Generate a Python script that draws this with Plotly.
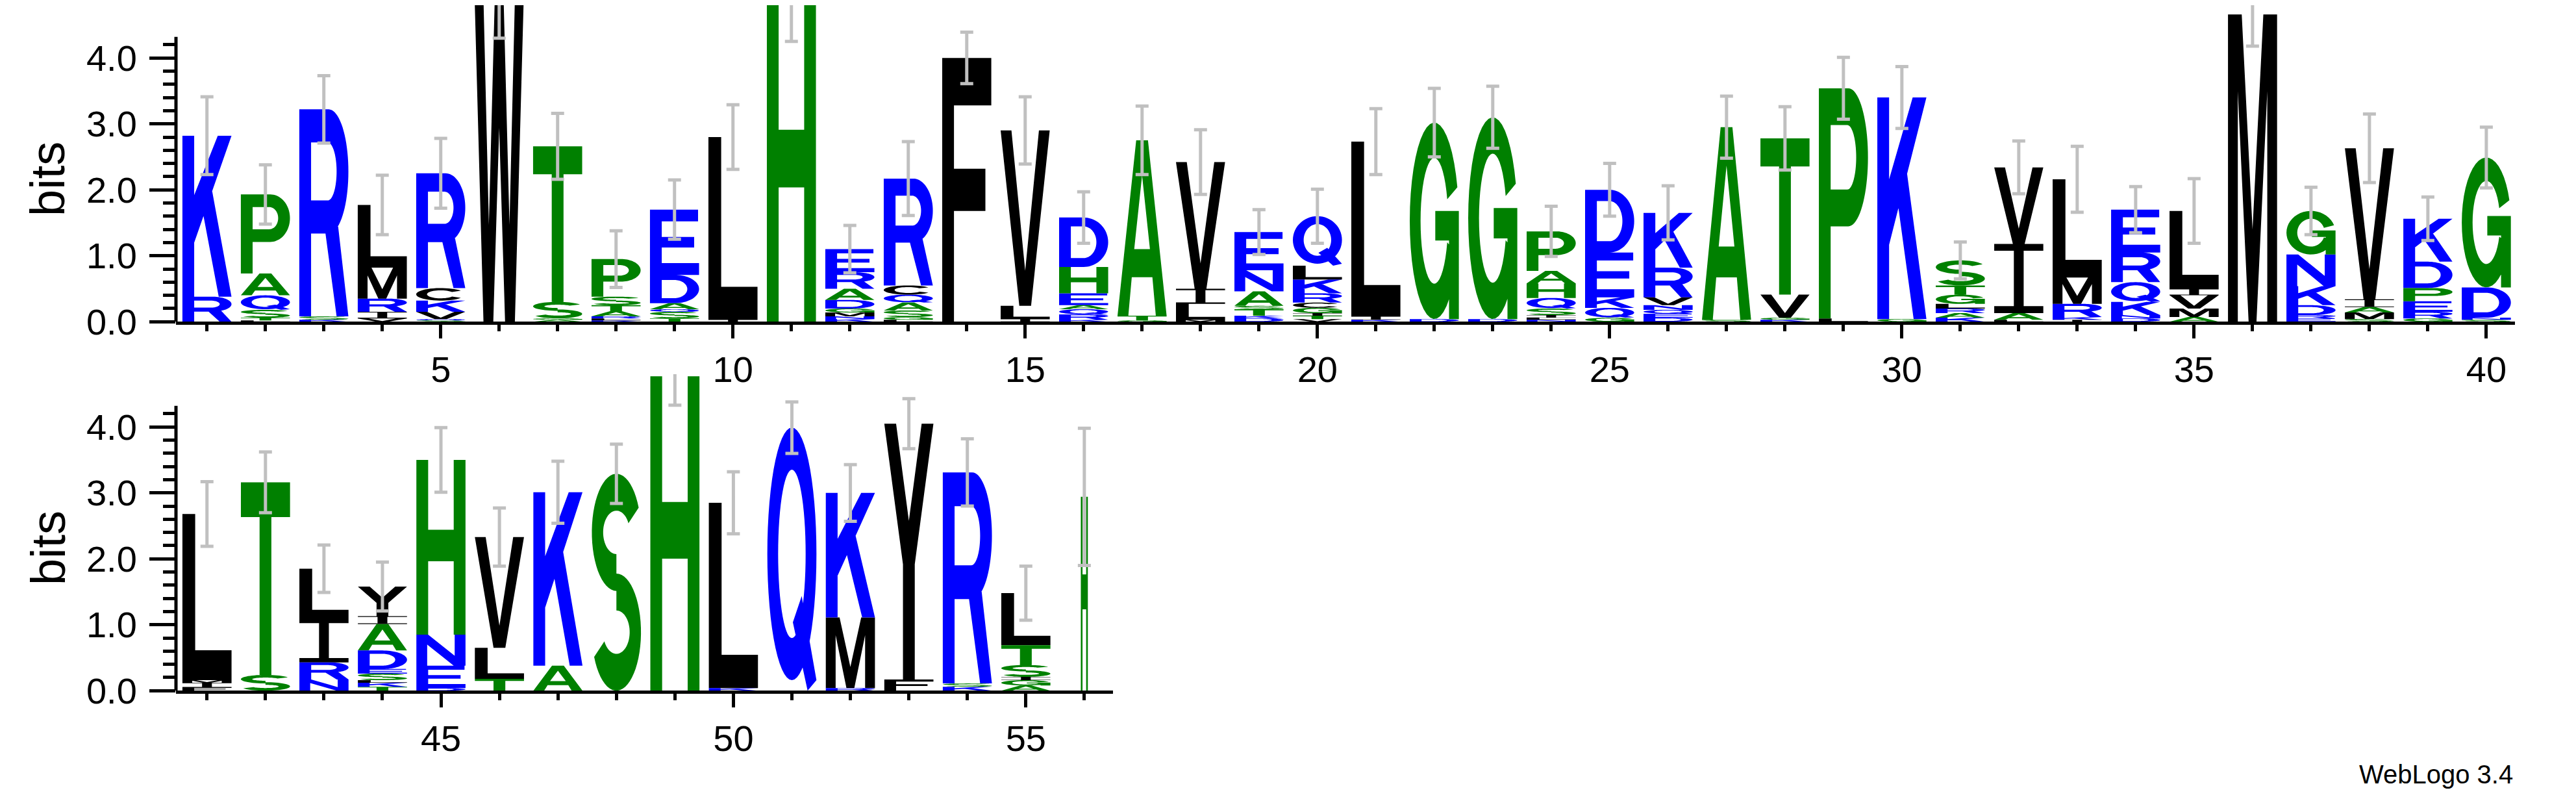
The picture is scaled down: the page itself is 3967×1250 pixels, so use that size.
import math
import plotly.graph_objects as go

# sequence logo data: per position, letters from bottom to top with height in bits
positions = list(range(1, 57))
stacks = [
    [("R", 0.38), ("K", 2.44)],
    [("L", 0.02), ("T", 0.04), ("S", 0.12), ("Q", 0.22), ("A", 0.33), ("P", 1.2)],
    [("K", 0.03), ("S", 0.05), ("R", 3.14)],
    [("V", 0.05), ("I", 0.1), ("R", 0.2), ("M", 0.47), ("L", 0.95)],
    [("S", 0.02), ("Q", 0.02), ("V", 0.11), ("K", 0.17), ("C", 0.19), ("R", 1.74)],
    [("W", 4.9)],
    [("A", 0.03), ("G", 0.02), ("S", 0.25), ("T", 2.36)],
    [("K", 0.02), ("L", 0.03), ("R", 0.03), ("A", 0.08), ("T", 0.09), ("S", 0.13), ("P", 0.57)],
    [("T", 0.05), ("S", 0.1), ("Q", 0.04), ("A", 0.09), ("D", 0.43), ("E", 0.99)],
    [("I", 0.03), ("L", 2.77)],
    [("H", 4.85)],
    [("K", 0.04), ("N", 0.04), ("M", 0.06), ("G", 0.06), ("D", 0.13), ("A", 0.17), ("R", 0.25), ("E", 0.35)],
    [("L", 0.03), ("G", 0.04), ("S", 0.1), ("A", 0.12), ("Q", 0.12), ("C", 0.14), ("R", 1.62)],
    [("F", 4.0)],
    [("I", 0.04), ("L", 0.2), ("V", 2.66)],
    [("K", 0.03), ("R", 0.08), ("Q", 0.08), ("A", 0.06), ("E", 0.18), ("H", 0.4), ("D", 0.75)],
    [("G", 0.02), ("T", 0.07), ("A", 2.66)],
    [("M", 0.03), ("L", 0.24), ("I", 0.23), ("V", 1.92)],
    [("D", 0.05), ("K", 0.04), ("T", 0.1), ("S", 0.05), ("A", 0.22), ("N", 0.32), ("E", 0.58)],
    [("V", 0.04), ("T", 0.05), ("I", 0.04), ("G", 0.08), ("C", 0.08), ("R", 0.14), ("K", 0.21), ("L", 0.21), ("Q", 0.75)],
    [("K", 0.03), ("I", 0.05), ("L", 2.65)],
    [("D", 0.04), ("G", 2.98)],
    [("D", 0.04), ("G", 3.06)],
    [("N", 0.03), ("L", 0.03), ("I", 0.04), ("S", 0.1), ("Q", 0.16), ("H", 0.22), ("A", 0.19), ("P", 0.6)],
    [("G", 0.06), ("Q", 0.15), ("K", 0.16), ("E", 0.68), ("D", 0.95)],
    [("D", 0.06), ("E", 0.06), ("Q", 0.06), ("N", 0.07), ("V", 0.12), ("R", 0.45), ("K", 0.83)],
    [("S", 0.03), ("A", 2.92)],
    [("K", 0.03), ("G", 0.03), ("V", 0.35), ("T", 2.37)],
    [("L", 0.05), ("P", 3.49)],
    [("G", 0.04), ("K", 3.36)],
    [("K", 0.06), ("A", 0.07), ("R", 0.07), ("L", 0.07), ("G", 0.14), ("T", 0.14), ("S", 0.38)],
    [("L", 0.03), ("A", 0.1), ("I", 1.05), ("V", 1.16)],
    [("I", 0.03), ("K", 0.04), ("R", 0.2), ("M", 0.4), ("L", 1.49)],
    [("D", 0.05), ("N", 0.05), ("K", 0.2), ("Q", 0.3), ("R", 0.45), ("E", 0.65)],
    [("A", 0.07), ("M", 0.13), ("V", 0.2), ("I", 0.1), ("L", 1.18)],
    [("M", 4.66)],
    [("E", 0.05), ("R", 0.05), ("D", 0.15), ("K", 0.29), ("N", 0.48), ("G", 0.66)],
    [("S", 0.04), ("M", 0.1), ("A", 0.08), ("I", 0.12), ("V", 2.29)],
    [("G", 0.05), ("R", 0.1), ("E", 0.16), ("P", 0.2), ("D", 0.4), ("K", 0.65)],
    [("S", 0.03), ("N", 0.03), ("D", 0.46), ("G", 1.97)],
    [("F", 0.05), ("I", 0.07), ("M", 0.04), ("L", 2.52)],
    [("S", 0.24), ("T", 2.92)],
    [("N", 0.17), ("R", 0.26), ("I", 0.66), ("L", 0.76)],
    [("T", 0.06), ("K", 0.06), ("L", 0.04), ("S", 0.1), ("E", 0.07), ("D", 0.28), ("A", 0.4), ("I", 0.12), ("Y", 0.45)],
    [("D", 0.04), ("E", 0.34), ("N", 0.47), ("H", 2.65)],
    [("T", 0.18), ("L", 0.47), ("V", 1.68)],
    [("A", 0.38), ("K", 2.63)],
    [("S", 3.29)],
    [("H", 4.77)],
    [("K", 0.04), ("L", 2.81)],
    [("Q", 3.99)],
    [("R", 0.04), ("M", 1.07), ("K", 1.89)],
    [("F", 0.17), ("Y", 3.88)],
    [("K", 0.06), ("S", 0.05), ("R", 3.2)],
    [("A", 0.08), ("G", 0.08), ("I", 0.05), ("S", 0.18), ("T", 0.3), ("L", 0.79)],
    [("H", 2.94)],
]
errors = [0.59, 0.45, 0.51, 0.45, 0.53, 0.6, 0.5, 0.43, 0.45, 0.49,
          0.6, 0.36, 0.56, 0.39, 0.51, 0.39, 0.52, 0.49, 0.34, 0.41,
          0.5, 0.52, 0.47, 0.38, 0.4, 0.41, 0.47, 0.48, 0.47, 0.47,
          0.28, 0.4, 0.5, 0.35, 0.49, 0.48, 0.36, 0.52, 0.33, 0.46,
          0.49, 0.46, 0.36, 0.37, 0.49, 0.44, 0.47, 0.45, 0.44, 0.47,
          0.39, 0.43, 0.38, 0.51, 0.41, 1.04]
col_width = [0.84] * 55 + [0.12]

colors = {}
for a in "KRDEQN":
    colors[a] = "#0000ff"
for a in "GSTAPH":
    colors[a] = "#008000"
for a in "LVIMFWYC":
    colors[a] = "#000000"


def arc(cx, cy, rx, ry, a0, a1, n=40):
    return [(cx + rx * math.cos(math.radians(a0 + (a1 - a0) * i / n)),
             cy + ry * math.sin(math.radians(a0 + (a1 - a0) * i / n))) for i in range(n + 1)]


def band(cx, cy, rxo, ryo, rxi, ryi, a0, a1):
    return arc(cx, cy, rxo, ryo, a0, a1) + arc(cx, cy, rxi, ryi, a1, a0)


def rect(x0, y0, x1, y1):
    return [(x0, y0), (x1, y0), (x1, y1), (x0, y1)]


def ring(cx, cy, rxo, ryo, rxi, ryi):
    return [(arc(cx, cy, rxo, ryo, 0, 360, 60), False), (arc(cx, cy, rxi, ryi, 0, 360, 60), True)]


bowl_P = [(0, 0), (0.24, 0), (0.24, 0.4)] + arc(0.6, 0.7, 0.4, 0.3, -90, 90) + [(0, 1)]
hole_P = [(0.24, 0.56)] + arc(0.58, 0.7, 0.18, 0.14, -90, 90) + [(0.24, 0.84)]

glyphs = {
    "A": [([(0, 0), (0.22, 0), (0.29, 0.22), (0.71, 0.22), (0.78, 0), (1, 0), (0.62, 1), (0.38, 1)], False),
          ([(0.34, 0.38), (0.66, 0.38), (0.5, 0.8)], True)],
    "C": [(band(0.5, 0.5, 0.5, 0.5, 0.28, 0.32, 35, 325), False)],
    "D": [([(0, 0), (0.5, 0)] + arc(0.5, 0.5, 0.5, 0.5, -90, 90) + [(0, 1)], False),
          ([(0.24, 0.18), (0.5, 0.18)] + arc(0.5, 0.5, 0.26, 0.32, -90, 90) + [(0.24, 0.82)], True)],
    "E": [([(0, 0), (1, 0), (1, 0.18), (0.24, 0.18), (0.24, 0.42), (0.9, 0.42), (0.9, 0.58),
            (0.24, 0.58), (0.24, 0.82), (0.98, 0.82), (0.98, 1), (0, 1)], False)],
    "F": [([(0, 0), (0.24, 0), (0.24, 0.42), (0.88, 0.42), (0.88, 0.58), (0.24, 0.58),
            (0.24, 0.82), (1, 0.82), (1, 1), (0, 1)], False)],
    "G": [(band(0.5, 0.5, 0.5, 0.5, 0.28, 0.32, 20, 340), False),
          (rect(0.52, 0.4, 1, 0.55), False), (rect(0.8, 0.0, 1, 0.55), False)],
    "H": [([(0, 0), (0.24, 0), (0.24, 0.42), (0.76, 0.42), (0.76, 0), (1, 0), (1, 1), (0.76, 1),
            (0.76, 0.6), (0.24, 0.6), (0.24, 1), (0, 1)], False)],
    "I": [(rect(0, 0, 1, 0.1), False), (rect(0, 0.9, 1, 1), False), (rect(0.4, 0, 0.6, 1), False)],
    "K": [(rect(0, 0, 0.24, 1), False),
          ([(0.2, 0.3), (1, 1), (0.72, 1), (0.2, 0.6)], False),
          ([(0.4, 0.55), (0.74, 0), (1, 0), (0.58, 0.7)], False)],
    "L": [([(0, 0), (1, 0), (1, 0.18), (0.26, 0.18), (0.26, 1), (0, 1)], False)],
    "M": [([(0, 0), (0.2, 0), (0.2, 0.75), (0.42, 0), (0.58, 0), (0.8, 0.75), (0.8, 0), (1, 0),
            (1, 1), (0.72, 1), (0.5, 0.3), (0.28, 1), (0, 1)], False)],
    "N": [([(0, 0), (0.22, 0), (0.22, 0.68), (0.76, 0), (1, 0), (1, 1), (0.78, 1), (0.78, 0.32),
            (0.24, 1), (0, 1)], False)],
    "P": [(bowl_P, False), (hole_P, True)],
    "Q": ring(0.5, 0.52, 0.5, 0.48, 0.28, 0.32) + [([(0.52, 0.26), (0.7, 0.36), (1, 0.04), (0.82, 0)], False)],
    "R": [(bowl_P, False), (hole_P, True), ([(0.5, 0.46), (0.76, 0), (1, 0), (0.76, 0.5)], False)],
    "S": [(band(0.5, 0.73, 0.5, 0.27, 0.27, 0.1, 25, 270), False),
          (band(0.5, 0.27, 0.5, 0.27, 0.27, 0.1, 205, 450), False)],
    "T": [(rect(0, 0.82, 1, 1), False), (rect(0.38, 0, 0.62, 1), False)],
    "V": [([(0, 1), (0.38, 0), (0.62, 0), (1, 1), (0.78, 1), (0.5, 0.2), (0.22, 1)], False)],
    "W": [([(0, 1), (0.18, 0), (0.38, 0), (0.5, 0.6), (0.62, 0), (0.82, 0), (1, 1), (0.82, 1),
            (0.71, 0.3), (0.59, 1), (0.41, 1), (0.29, 0.3), (0.18, 1)], False)],
    "Y": [([(0.38, 0), (0.62, 0), (0.62, 0.45), (1, 1), (0.76, 1), (0.5, 0.62), (0.24, 1), (0, 1),
            (0.38, 0.45)], False)],
}


def oriented(pts, hole):
    area = sum(pts[i][0] * pts[(i + 1) % len(pts)][1] - pts[(i + 1) % len(pts)][0] * pts[i][1]
               for i in range(len(pts)))
    if (area < 0) != hole:
        pts = pts[::-1]
    return pts


fig = go.Figure()
rows = [(1, 40, "x", "y"), (41, 56, "x2", "y2")]
for first, last, xr, yr in rows:
    paths = {}
    tops = []
    for p in range(first, last + 1):
        w = col_width[p - 1]
        base = 0.0
        for letter, h in stacks[p - 1]:
            c = colors[letter]
            xs, ys = paths.setdefault(c, ([], []))
            for pts, hole in glyphs[letter]:
                for u, v in oriented(pts, hole):
                    xs.append(p - w / 2 + u * w)
                    ys.append(base + v * h)
                xs.append(None)
                ys.append(None)
            base += h
        tops.append(base)
    for c, (xs, ys) in paths.items():
        fig.add_trace(go.Scatter(x=xs, y=ys, mode="none", fill="toself", fillcolor=c,
                                 xaxis=xr, yaxis=yr, hoverinfo="skip", showlegend=False))
    fig.add_trace(go.Scatter(
        x=positions[first - 1:last], y=tops, mode="markers", marker=dict(size=0.1, color="rgba(0,0,0,0)"),
        error_y=dict(type="data", array=errors[first - 1:last], color="#c0c0c0", thickness=5, width=10),
        xaxis=xr, yaxis=yr, hoverinfo="skip", showlegend=False))

fam = "Liberation Sans, Arial"
font = dict(family=fam, size=56, color="black")
xdom1 = [263 / 3967, 3865 / 3967]
xdom2 = [263 / 3967, 1706 / 3967]
ax_common = dict(showline=True, linewidth=5, linecolor="black", ticks="outside", tickwidth=5,
                 tickcolor="black", ticklen=21, dtick=5, tick0=0, showgrid=False, zeroline=False,
                 tickfont=font, minor=dict(dtick=1, ticklen=10, tickwidth=5, tickcolor="black", ticks="outside"))
ay_common = dict(range=[0, 4.8], showline=False, ticks="outside", tickwidth=5, tickcolor="black",
                 ticklen=40, tickvals=[0, 1, 2, 3, 4], tickformat=".1f", showgrid=False, zeroline=False,
                 tickfont=font, ticklabelstandoff=8,
                 minor=dict(tickvals=[i * 0.2 for i in range(22) if i % 5], ticklen=19, tickwidth=5,
                            tickcolor="black", ticks="outside"))

fig.update_layout(
    width=3967, height=1250, margin=dict(l=0, r=0, t=0, b=0),
    paper_bgcolor="white", plot_bgcolor="white",
    xaxis=dict(domain=xdom1, range=[0.47, 40.49], anchor="y", **ax_common),
    yaxis=dict(domain=[0.6, 1.0], anchor="x", **ay_common),
    xaxis2=dict(domain=xdom2, range=[40.47, 56.49], anchor="y2", **ax_common),
    yaxis2=dict(domain=[0.1336, 0.5336], anchor="x2", **ay_common),
    shapes=[
        dict(type="line", xref="paper", yref="y", x0=xdom1[0], x1=xdom1[0], y0=0, y1=4.32,
             line=dict(color="black", width=5)),
        dict(type="line", xref="paper", yref="y2", x0=xdom2[0], x1=xdom2[0], y0=0, y1=4.32,
             line=dict(color="black", width=5)),
    ],
    annotations=[
        dict(text="bits", x=66 / 3967, y=2.16, xref="paper", yref="y", textangle=-90,
             xanchor="center", showarrow=False, font=dict(family=fam, size=74, color="black")),
        dict(text="bits", x=66 / 3967, y=2.16, xref="paper", yref="y2", textangle=-90,
             xanchor="center", showarrow=False, font=dict(family=fam, size=74, color="black")),
        dict(text="WebLogo 3.4", x=3864 / 3967, y=1 - 1215 / 1250, xref="paper", yref="paper",
             xanchor="right", yanchor="middle", showarrow=False,
             font=dict(family=fam, size=40, color="black")),
    ],
)

fig.write_html("out.html")
